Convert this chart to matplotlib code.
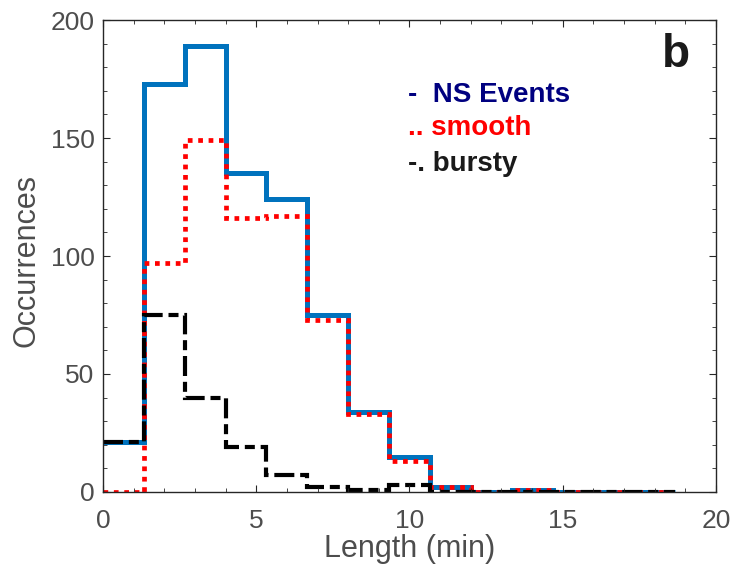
import numpy as np
import matplotlib.pyplot as plt
from matplotlib.ticker import MultipleLocator

plt.rcParams['font.family'] = ['Liberation Sans', 'DejaVu Sans']

# bin edges in minutes (14 bins of 4/3 min)
edges = np.arange(15) * 4 / 3

ns_events = [21, 173, 189, 135, 124, 75, 34, 15, 2, 0, 1, 0, 0, 0]
smooth = [0, 97, 149, 116, 117, 73, 33, 13, 2, 0, 1, 0, 0, 0]
bursty = [21, 75, 40, 19, 7, 2, 1, 3, 0, 0, 0, 0, 0, 0]

fig = plt.figure(figsize=(7.33, 5.73), dpi=100)
ax = fig.add_axes([0.1405, 0.1414, 0.8363, 0.8236])

ax.stairs(ns_events, edges, baseline=None, color='#0072bd', lw=3.6)
ax.stairs(smooth, edges, baseline=None, color='red', lw=3.4,
          linestyle=(0, (1, 1.2)))
ax.stairs(bursty, edges, baseline=None, color='black', lw=3.0,
          linestyle=(0, (4.8, 1.4, 2.4, 1.4)))

ax.set_xlim(0, 20)
ax.set_ylim(0, 200)
ax.xaxis.set_major_locator(MultipleLocator(5))
ax.xaxis.set_minor_locator(MultipleLocator(1))
ax.yaxis.set_major_locator(MultipleLocator(50))
ax.yaxis.set_minor_locator(MultipleLocator(10))
ax.tick_params(which='both', direction='in', top=True, right=True,
               labelsize=19, labelcolor='#4d4d4d', color='#262626')
ax.tick_params(which='major', length=5)
ax.tick_params(which='minor', length=3)
ax.tick_params(axis='x', pad=12)
ax.tick_params(axis='y', pad=6)
for s in ax.spines.values():
    s.set_color('#262626')
    s.set_linewidth(1)

ax.set_xlabel('Length (min)', fontsize=22, color='#4d4d4d')
ax.set_ylabel('Occurrences', fontsize=22, color='#4d4d4d')
ax.xaxis.set_label_coords(0.5, -0.09)
ax.yaxis.set_label_coords(-0.1, 0.49)

ax.text(0.9576, 0.9, 'b', transform=ax.transAxes, ha='right', va='baseline',
        fontsize=33, fontweight='bold', color='#1a1a1a')
ax.text(0.4975, 0.841, '-  NS Events', transform=ax.transAxes, fontsize=20,
        fontweight='bold', color='#000080', va='center')
ax.text(0.4975, 0.771, '.. smooth', transform=ax.transAxes, fontsize=20,
        fontweight='bold', color='red', va='center')
ax.text(0.4975, 0.696, '-. bursty', transform=ax.transAxes, fontsize=20,
        fontweight='bold', color='#1a1a1a', va='center')

fig.savefig('out.png', dpi=100)
